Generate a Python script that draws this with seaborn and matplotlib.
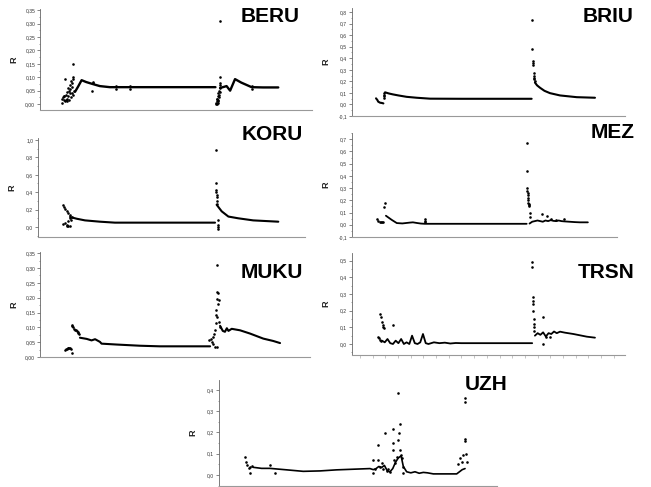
import matplotlib
matplotlib.use("Agg")
import matplotlib.pyplot as plt
import seaborn as sns
import numpy as np
from matplotlib.ticker import FixedLocator, AutoMinorLocator, FuncFormatter

sns.set_theme(style="white")
plt.rcParams['font.family'] = ['Liberation Sans', 'DejaVu Sans']

# ---------------- DATA (x in % of the time axis, y = R) ----------------
# BERU
beru_line1_x = [12.9, 14.0, 15.3, 17.0, 19.6, 22.0, 25.7, 40.0, 55.0, 64.5]
beru_line1_y = [0.046, 0.065, 0.089, 0.082, 0.074, 0.067, 0.063, 0.063, 0.063, 0.063]
beru_line2_x = [66.2, 68.6, 69.9, 71.7, 74.0, 77.8, 82.0, 87.6]
beru_line2_y = [0.060, 0.067, 0.050, 0.093, 0.080, 0.063, 0.062, 0.062]
beru_pts_x = [8.0, 8.2, 8.5, 8.7, 9.0, 9.2, 9.5, 9.8, 10.0, 10.2, 10.4, 10.6, 10.8, 11.0, 11.2,
              11.4, 11.6, 11.8, 12.0, 12.2, 12.4, 9.3, 10.1, 10.9, 11.5, 12.0, 8.8, 9.6, 11.7, 12.1,
              19.0, 19.5, 19.5, 28.0, 28.0, 33.0, 33.0,
              64.6, 64.8, 65.0, 65.1, 65.3, 65.4, 65.5, 65.6, 65.7, 65.8, 65.9, 66.0, 66.1, 66.2,
              66.3, 64.9, 65.2, 65.6, 66.0, 66.2, 78.0, 78.0]
beru_pts_y = [0.005, 0.020, 0.025, 0.015, 0.030, 0.010, 0.035, 0.020, 0.045, 0.060, 0.030, 0.015, 0.050, 0.040, 0.070,
              0.025, 0.065, 0.080, 0.095, 0.100, 0.050, 0.095, 0.010, 0.055, 0.085, 0.150, 0.030, 0.015, 0.040, 0.035,
              0.050, 0.078, 0.084, 0.058, 0.068, 0.058, 0.068,
              0.005, 0.000, 0.010, 0.020, 0.005, 0.030, 0.015, 0.040, 0.025, 0.050, 0.035, 0.060, 0.080, 0.100,
              0.045, 0.020, 0.000, 0.010, 0.070, 0.310, 0.058, 0.068]

# BRIU
briu_line0_x = [8.8, 9.3, 9.6, 10.3, 10.9, 11.5]
briu_line0_y = [0.053, 0.038, 0.024, 0.015, 0.013, 0.009]
briu_line1_x = [12.1, 13.5, 15.0, 17.0, 20.0, 23.7, 28.6, 40.0, 55.0, 65.8]
briu_line1_y = [0.105, 0.095, 0.087, 0.078, 0.066, 0.058, 0.050, 0.049, 0.049, 0.049]
briu_line2_x = [67.0, 67.8, 68.9, 70.5, 72.5, 76.2, 82.3, 89.0]
briu_line2_y = [0.190, 0.165, 0.144, 0.118, 0.098, 0.078, 0.063, 0.058]
briu_pts_x = [11.6, 11.7, 11.8, 11.9, 65.9, 66.1, 66.2, 66.3, 66.4, 66.5, 66.6, 66.7, 66.8, 66.9]
briu_pts_y = [0.060, 0.070, 0.085, 0.095, 0.730, 0.480, 0.380, 0.360, 0.340, 0.270, 0.250, 0.230, 0.220, 0.200]

# KORU
koru_line1_x = [12.0, 14.5, 17.6, 23.2, 28.8, 45.0, 66.3]
koru_line1_y = [0.115, 0.095, 0.076, 0.061, 0.050, 0.050, 0.050]
koru_line2_x = [66.9, 68.8, 71.3, 75.0, 80.6, 90.0]
koru_line2_y = [0.256, 0.180, 0.120, 0.100, 0.076, 0.061]
koru_pts_x = [9.5, 9.9, 10.2, 10.7, 11.4, 12.0, 10.0, 10.7, 11.4, 12.0, 11.4, 12.0, 12.4, 10.7, 9.5, 12.6,
              66.7, 66.7, 66.8, 66.8, 66.9, 66.9, 67.0, 67.1, 67.5, 67.5, 67.5, 67.5]
koru_pts_y = [0.256, 0.230, 0.210, 0.180, 0.160, 0.140, 0.046, 0.027, 0.015, 0.008, 0.065, 0.100, 0.084, 0.008, 0.038, 0.120,
              0.880, 0.500, 0.420, 0.400, 0.370, 0.350, 0.300, 0.270, 0.020, 0.000, -0.020, 0.080]

# MEZ
mez_line1_x = [12.8, 13.7, 15.0, 16.9, 19.0, 21.9, 23.0, 24.4, 26.0, 27.5, 30.0, 40.0, 55.0, 65.9]
mez_line1_y = [0.074, 0.060, 0.040, 0.014, 0.011, 0.018, 0.020, 0.015, 0.010, 0.008, 0.008, 0.008, 0.008, 0.008]
mez_line2_x = [67.0, 68.0, 69.0, 70.0, 71.0, 72.0, 73.0, 74.0, 75.0, 76.0, 77.0, 78.0, 79.0, 80.0, 82.0, 84.0, 86.0, 89.0]
mez_line2_y = [0.010, 0.025, 0.030, 0.035, 0.030, 0.025, 0.035, 0.030, 0.038, 0.032, 0.030, 0.035, 0.030, 0.028, 0.025, 0.022, 0.020, 0.020]
mez_pts_x = [9.3, 9.9, 10.6, 11.0, 11.4, 11.8, 12.2, 12.5, 27.5, 27.5, 27.5,
             65.9, 66.0, 66.2, 66.2, 66.3, 66.4, 66.5, 66.6, 66.6, 66.7, 66.8, 66.9, 67.0, 67.1,
             71.6, 73.5, 75.0, 77.0, 80.0]
mez_pts_y = [0.046, 0.027, 0.020, 0.020, 0.020, 0.020, 0.144, 0.177, 0.030, 0.045, 0.020,
             0.673, 0.444, 0.300, 0.280, 0.260, 0.240, 0.220, 0.200, 0.180, 0.170, 0.160, 0.150, 0.100, 0.060,
             0.087, 0.068, 0.045, 0.040, 0.045]

# MUKU
muku_line1_x = [14.8, 17.3, 19.1, 20.4, 22.2, 22.8, 28.4, 37.0, 44.4, 63.0]
muku_line1_y = [0.065, 0.061, 0.056, 0.060, 0.051, 0.045, 0.042, 0.038, 0.036, 0.036]
muku_line2_x = [66.7, 67.7, 68.5, 69.2, 69.8, 71.0, 74.1, 77.8, 82.7, 86.4, 88.9]
muku_line2_y = [0.105, 0.088, 0.085, 0.097, 0.088, 0.095, 0.090, 0.079, 0.062, 0.054, 0.047]
muku_pts_x = [9.3, 9.6, 9.9, 10.2, 10.5, 10.8, 11.1, 11.4, 11.7,
              11.7, 12.0, 12.3, 12.6, 13.0, 13.3, 13.6, 13.9, 14.2, 14.5,
              62.7, 63.2, 63.6, 64.0, 64.2, 64.4, 64.8, 65.2, 65.4, 65.7, 66.0, 66.4, 65.6, 64.8, 65.4,
              65.0, 65.2, 65.7, 66.0, 66.4, 66.7]
muku_pts_y = [0.023, 0.026, 0.028, 0.030, 0.032, 0.031, 0.032, 0.028, 0.014,
              0.107, 0.104, 0.100, 0.096, 0.092, 0.090, 0.087, 0.085, 0.082, 0.079,
              0.056, 0.062, 0.051, 0.068, 0.045, 0.079, 0.090, 0.113, 0.135, 0.220, 0.215, 0.192, 0.310, 0.034, 0.034,
              0.140, 0.160, 0.195, 0.180, 0.119, 0.102]

# TRSN
trsn_line1_x = [11.0, 12.0, 13.0, 14.0, 15.0, 16.0, 17.0, 18.0, 19.0, 20.0, 21.0, 22.0, 23.0, 24.0,
                25.0, 26.0, 27.0, 28.0, 30.0, 32.0, 34.0, 36.0, 38.0, 40.0, 50.0, 60.0, 66.0]
trsn_line1_y = [0.020, 0.010, 0.030, 0.005, 0.000, 0.020, 0.005, 0.030, 0.000, 0.010, 0.000, 0.050,
                0.005, 0.000, 0.010, 0.060, 0.005, 0.000, 0.010, 0.005, 0.008, 0.003, 0.006, 0.005,
                0.005, 0.005, 0.005]
trsn_line2_x = [67.0, 68.0, 69.0, 70.0, 71.0, 72.0, 73.0, 74.0, 75.0, 76.2, 78.0, 81.1, 86.0, 89.0]
trsn_line2_y = [0.050, 0.065, 0.055, 0.070, 0.045, 0.065, 0.060, 0.075, 0.065, 0.074, 0.068, 0.060, 0.044, 0.038]
trsn_pts_x = [9.6, 10.0, 10.3, 10.6, 11.0, 11.2, 11.5, 11.8, 14.9, 10.3, 10.6,
              65.9, 66.0, 66.2, 66.2, 66.3, 66.4, 66.5, 66.6, 66.7, 66.7, 69.8, 69.8, 71.0, 72.5]
trsn_pts_y = [0.044, 0.034, 0.180, 0.160, 0.134, 0.114, 0.100, 0.094, 0.114, 0.024, 0.020,
              0.490, 0.460, 0.280, 0.260, 0.240, 0.200, 0.150, 0.120, 0.100, 0.080, 0.160, 0.000, 0.040, 0.045]

# UZH
uzh_line1_x = [12.3, 15.3, 18.3, 24.4, 30.3, 36.3, 42.3, 48.3, 54.3, 55.5, 56.5, 57.5, 58.5, 59.5,
               60.5, 61.5, 62.5, 63.5, 64.5, 65.5, 66.3, 67.5, 69.0, 70.5, 72.0, 73.5, 75.0, 77.1, 80.0, 85.5,
               86.5, 87.5, 88.5]
uzh_line1_y = [0.036, 0.031, 0.031, 0.024, 0.017, 0.019, 0.024, 0.027, 0.030, 0.025, 0.030, 0.040, 0.035,
               0.045, 0.020, 0.015, 0.030, 0.060, 0.080, 0.090, 0.040, 0.015, 0.010, 0.015, 0.008, 0.012,
               0.010, 0.005, 0.005, 0.005, 0.015, 0.025, 0.030]
uzh_pts_x = [9.4, 9.8, 10.1, 10.7, 11.0, 11.3, 11.9, 18.3, 20.0,
             55.3, 55.3, 56.1, 57.3, 57.3, 57.9, 58.5, 59.1, 59.7, 60.3, 60.9, 61.5, 62.5, 62.5, 62.7,
             62.9, 63.3, 63.9, 64.5, 64.5, 64.9, 65.1, 65.1, 65.3, 65.7, 66.3, 66.3,
             86.0, 86.8, 87.3, 87.8, 88.5, 88.5, 88.5, 88.5, 88.8, 89.1]
uzh_pts_y = [0.083, 0.063, 0.047, 0.031, 0.008, 0.039, 0.042, 0.045, 0.010,
             0.070, 0.008, 0.030, 0.141, 0.070, 0.039, 0.055, 0.030, 0.196, 0.020, 0.030, 0.015, 0.215, 0.149, 0.118,
             0.070, 0.055, 0.086, 0.387, 0.165, 0.196, 0.240, 0.118, 0.094, 0.078, 0.039, 0.008,
             0.050, 0.078, 0.060, 0.094, 0.360, 0.345, 0.170, 0.160, 0.100, 0.060]

# tick values
beru_ticks = [0.00, 0.05, 0.10, 0.15, 0.20, 0.25, 0.30, 0.35]
briu_ticks = [-0.1, 0.0, 0.1, 0.2, 0.3, 0.4, 0.5, 0.6, 0.7, 0.8]
koru_ticks = [0.0, 0.2, 0.4, 0.6, 0.8, 1.0]
mez_ticks = [-0.1, 0.0, 0.1, 0.2, 0.3, 0.4, 0.5, 0.6, 0.7]
muku_ticks = [0.00, 0.05, 0.10, 0.15, 0.20, 0.25, 0.30, 0.35]
trsn_ticks = [0.0, 0.1, 0.2, 0.3, 0.4, 0.5]
uzh_ticks = [0.0, 0.1, 0.2, 0.3, 0.4]

# ---------------- FIGURE ----------------
W, H = 651, 487
fig = plt.figure(figsize=(W / 100, H / 100), dpi=100)
fig.patch.set_facecolor('white')


def make_axes(left, right, top, bottom):
    return fig.add_axes([left / W, 1 - bottom / H, (right - left) / W, (bottom - top) / H])


def style(ax, ticks, ylim, decimals, title, tx, ty, xticks=False):
    ax.set_xlim(0, 100)
    ax.set_ylim(*ylim)
    for s in ['top', 'right']:
        ax.spines[s].set_visible(False)
    ax.spines['left'].set_color('#666666')
    ax.spines['bottom'].set_color('#999999')
    ax.spines['left'].set_linewidth(0.6)
    ax.spines['bottom'].set_linewidth(0.8)
    ax.yaxis.set_major_locator(FixedLocator(ticks))
    ax.yaxis.set_minor_locator(AutoMinorLocator(2))
    ax.yaxis.set_major_formatter(FuncFormatter(
        lambda v, p: (f"{v:.{decimals}f}").replace('.', ',').replace('-0,0' + '0' * (decimals - 1), '0,' + '0' * decimals)))
    ax.tick_params(axis='y', which='major', length=2, width=0.5, color='#555555',
                   labelsize=3.6, labelcolor='#333333', pad=1.5, left=True)
    ax.tick_params(axis='y', which='minor', length=1, width=0.4, color='#555555', left=True)
    if xticks:
        ax.set_xticks(np.arange(2.9, 100, 4.65))
        ax.tick_params(axis='x', which='major', length=2, width=0.4, color='#999999', bottom=True)
    else:
        ax.set_xticks([])
    ax.set_xticklabels([])
    ax.set_xlabel('')
    ax.set_ylabel('R', fontsize=6.5, fontweight='bold', color='#222222')
    ax.yaxis.set_label_coords(-22 / (ax.get_position().width * W), 0.5)
    ax.grid(False)
    ax.set_facecolor('white')
    fig.text(tx / W, 1 - ty / H, title, ha='right', va='center', fontsize=15,
             fontweight='bold', color='black')


def draw(ax, lines, px, py, lw=1.5):
    for lx, ly in lines:
        sns.lineplot(x=lx, y=ly, ax=ax, color='black', lw=lw, estimator=None, sort=False)
    sns.scatterplot(x=px, y=py, ax=ax, color='black', s=3.5, linewidth=0)


ax = make_axes(40, 312, 9, 110)
draw(ax, [(beru_line1_x, beru_line1_y), (beru_line2_x, beru_line2_y)], beru_pts_x, beru_pts_y, lw=1.7)
style(ax, beru_ticks, (-0.022, 0.354), 2, 'BERU', 300, 16)

ax = make_axes(352, 625, 8, 116)
draw(ax, [(briu_line0_x, briu_line0_y), (briu_line1_x, briu_line1_y), (briu_line2_x, briu_line2_y)],
     briu_pts_x, briu_pts_y)
style(ax, briu_ticks, (-0.1, 0.835), 1, 'BRIU', 633, 17)

ax = make_axes(38, 305, 138, 237)
draw(ax, [(koru_line1_x, koru_line1_y), (koru_line2_x, koru_line2_y)], koru_pts_x, koru_pts_y)
style(ax, koru_ticks, (-0.115, 1.023), 1, 'KORU', 303, 135)

ax = make_axes(352, 617, 133, 237)
draw(ax, [(mez_line1_x, mez_line1_y), (mez_line2_x, mez_line2_y)], mez_pts_x, mez_pts_y, lw=1.3)
style(ax, mez_ticks, (-0.1, 0.751), 1, 'MEZ', 635, 133)

ax = make_axes(40, 310, 252, 357)
draw(ax, [(muku_line1_x, muku_line1_y), (muku_line2_x, muku_line2_y)], muku_pts_x, muku_pts_y)
style(ax, muku_ticks, (0.0, 0.354), 2, 'MUKU', 303, 272)

ax = make_axes(352, 625, 253, 355)
draw(ax, [(trsn_line1_x, trsn_line1_y), (trsn_line2_x, trsn_line2_y)], trsn_pts_x, trsn_pts_y, lw=1.3)
style(ax, trsn_ticks, (-0.066, 0.546), 1, 'TRSN', 635, 272, xticks=True)

ax = make_axes(219, 497, 380, 486)
draw(ax, [(uzh_line1_x, uzh_line1_y)], uzh_pts_x, uzh_pts_y, lw=1.2)
style(ax, uzh_ticks, (-0.052, 0.447), 1, 'UZH', 508, 385)

fig.savefig('out.png', dpi=100, facecolor='white')
